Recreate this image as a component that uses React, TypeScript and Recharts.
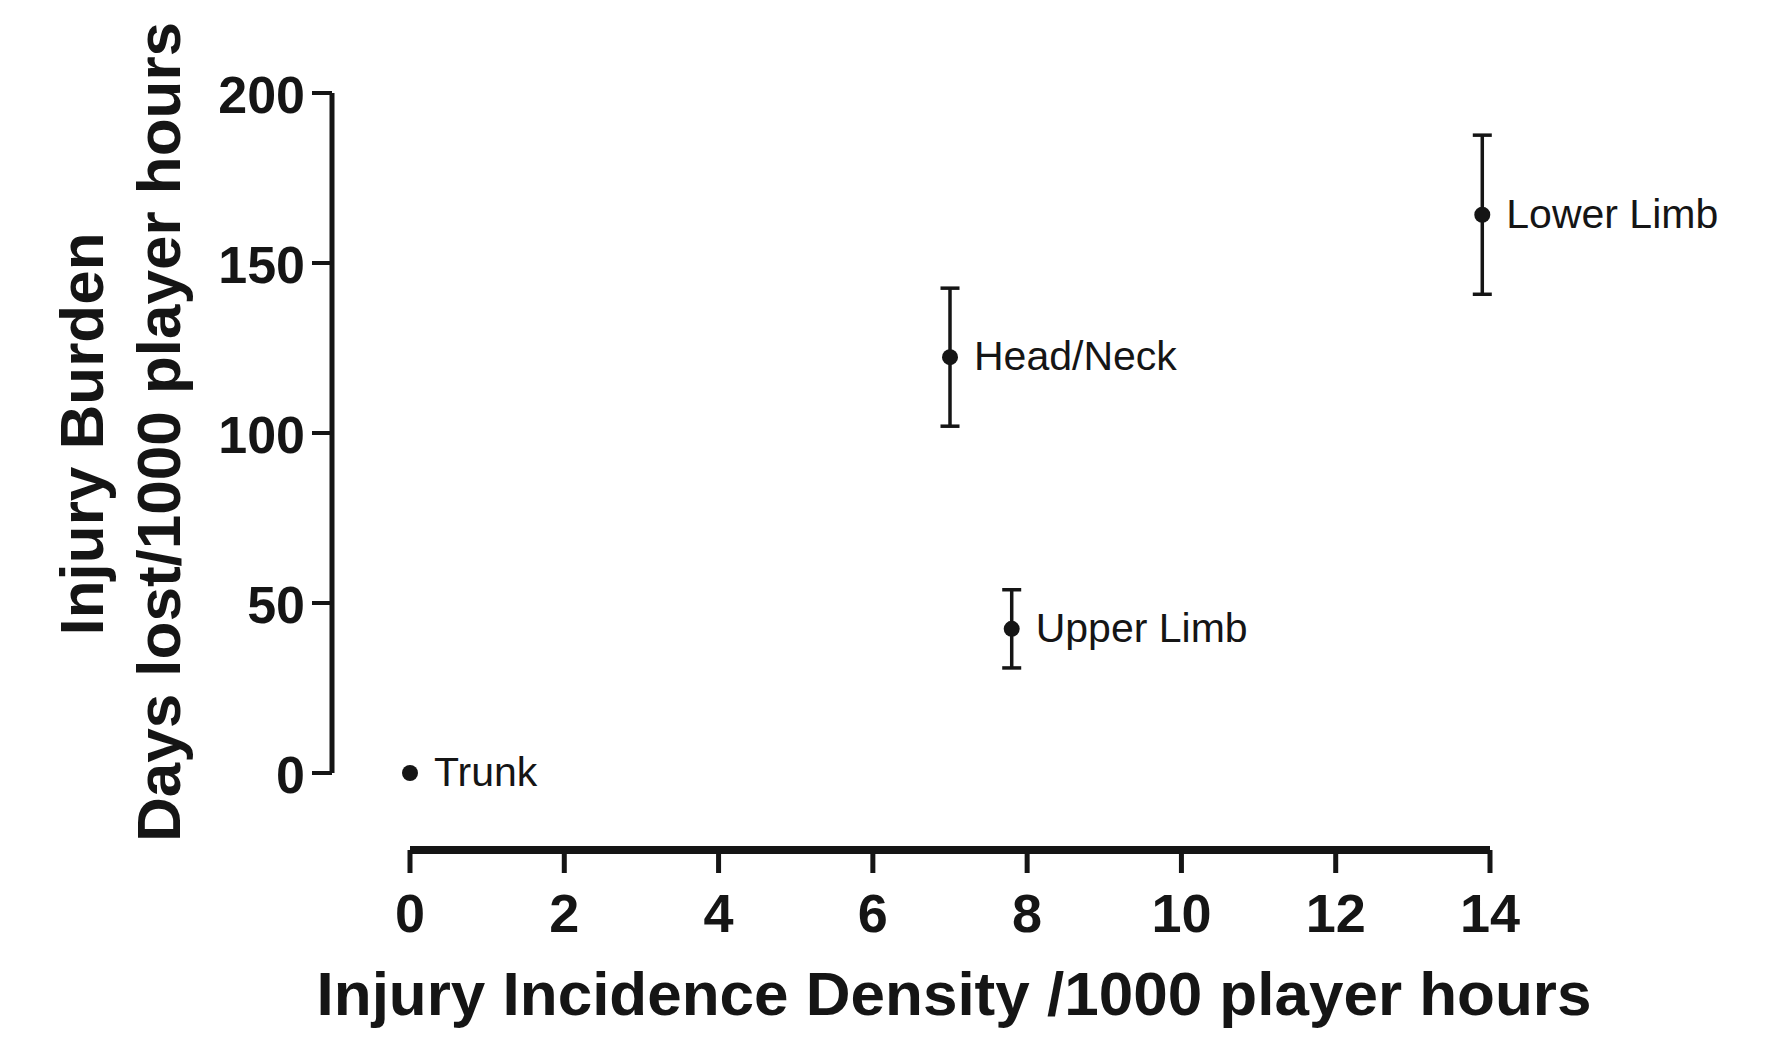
import { ScatterChart, Scatter, XAxis, YAxis, ErrorBar } from 'recharts';

// Injury burden vs incidence by body region (mean ± SEM)
const regions = ['Trunk', 'Upper Limb', 'Head/Neck', 'Lower Limb'];
const incidence = [0, 7.8, 7.0, 13.9];
const burden = [0, 42.4, 122.3, 164.2];
const burdenErr = [null, 11.5, 20.3, 23.4];

const xTicks = [0, 2, 4, 6, 8, 10, 12, 14];
const yTicks = [0, 50, 100, 150, 200];

const data = regions.map((region, i) => ({
  region,
  incidence: incidence[i],
  burden: burden[i],
  err: burdenErr[i],
}));

const INK = '#151515';
const FONT = '"Liberation Sans", Arial, Helvetica, sans-serif';
// Prism-style detached axes: y axis sits left of x=0, x axis sits below y=0
const Y_AXIS_SHIFT = 78;
const X_AXIS_SHIFT = 77;

const XTick = ({ x, y, payload }: any) => (
  <text x={x} y={y + 136} textAnchor="middle" fontSize={54} fontWeight="bold" fill={INK} fontFamily={FONT}>
    {payload.value}
  </text>
);

const YTick = ({ x, y, payload }: any) => (
  <text x={x - 85} y={y + 20} textAnchor="end" fontSize={52} fontWeight="bold" fill={INK} fontFamily={FONT}>
    {payload.value}
  </text>
);

const XTitle = ({ viewBox }: any) => (
  <text
    x={viewBox.x + viewBox.width / 2 + 4}
    y={1015}
    textAnchor="middle"
    fontSize={62}
    fontWeight="bold"
    fill={INK}
    fontFamily={FONT}
  >
    Injury Incidence Density /1000 player hours
  </text>
);

const YTitle = () => (
  <g fontSize={62} fontWeight="bold" fill={INK} fontFamily={FONT} textAnchor="middle">
    <text x={103} y={434} transform="rotate(-90 103 434)">Injury Burden</text>
    <text x={180} y={432} transform="rotate(-90 180 432)">Days lost/1000 player hours</text>
  </g>
);

const PointWithName = ({ cx, cy, payload }: any) => (
  <g>
    <circle cx={cx} cy={cy} r={8} fill={INK} />
    <text x={cx + 24} y={cy + 13} fontSize={41} fill={INK} fontFamily={FONT}>
      {payload.region}
    </text>
  </g>
);

export default function App() {
  return (
    <div style={{ position: 'absolute', left: 0, top: 0, background: '#fff' }}>
      <ScatterChart width={1767} height={1054} margin={{ top: 93, right: 277, bottom: 81, left: 310 }}>
        <XAxis
          type="number"
          dataKey="incidence"
          domain={[0, 14]}
          ticks={xTicks}
          height={200}
          tickSize={23}
          tickMargin={0}
          tick={<XTick />}
          axisLine={{ stroke: INK, strokeWidth: 8, transform: `translate(0,${X_AXIS_SHIFT})` }}
          tickLine={{ stroke: INK, strokeWidth: 5, transform: `translate(0,${X_AXIS_SHIFT})` }}
          label={<XTitle />}
        />
        <YAxis
          type="number"
          dataKey="burden"
          domain={[0, 200]}
          ticks={yTicks}
          width={100}
          tickSize={20}
          tickMargin={0}
          tick={<YTick />}
          axisLine={{ stroke: INK, strokeWidth: 5, transform: `translate(-${Y_AXIS_SHIFT},0)` }}
          tickLine={{ stroke: INK, strokeWidth: 4, transform: `translate(-${Y_AXIS_SHIFT},0)` }}
          label={<YTitle />}
        />
        <Scatter data={data} fill={INK} shape={<PointWithName />} isAnimationActive={false}>
          <ErrorBar dataKey="err" direction="y" width={9.5} strokeWidth={3.5} stroke={INK} isAnimationActive={false} />
        </Scatter>
      </ScatterChart>
    </div>
  );
}
